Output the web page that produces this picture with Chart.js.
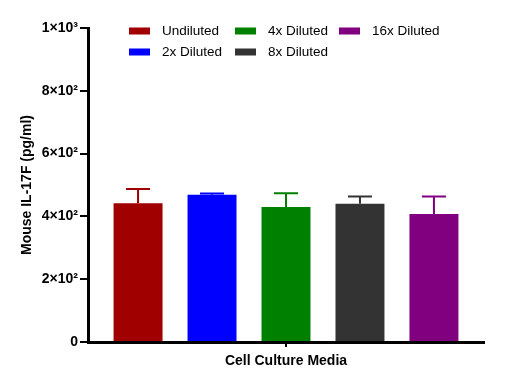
<!DOCTYPE html>
<html>
<head>
<meta charset="utf-8">
<script src="https://cdn.jsdelivr.net/npm/chart.js@4"></script>
<style>
  html, body { margin: 0; padding: 0; background: #fff; }
  #wrap { width: 528px; height: 389px; position: relative; }
</style>
</head>
<body>
<div id="wrap"><canvas id="il17fChart"></canvas></div>
<script>
const categorias = ["Cell Culture Media"];
const grupos = ["Undiluted", "2x Diluted", "4x Diluted", "8x Diluted", "16x Diluted"];
const medias = [442, 469, 430, 440, 408];
const erros = [45, 4, 44, 23, 55];
const cores = ["#A00000", "#0000FF", "#008000", "#333333", "#800080"];
const yTicks = [0, 200, 400, 600, 800, 1000];

const fonte = "Arial, 'Liberation Sans', sans-serif";

function formatSci(v) {
  if (v === 0) return "0";
  const sup = { "0": "⁰", "1": "¹", "2": "²", "3": "³", "4": "⁴", "5": "⁵", "6": "⁶", "7": "⁷", "8": "⁸", "9": "⁹" };
  const exp = Math.floor(Math.log10(v));
  const mant = Math.round(v / Math.pow(10, exp));
  return mant + "×10" + String(exp).split("").map((c) => sup[c]).join("");
}

// barras de erro (só a parte de cima)
const errorBarsPlugin = {
  id: "errorBars",
  afterDatasetsDraw(chart) {
    const ctx = chart.ctx;
    const y = chart.scales.y;
    chart.data.datasets.forEach((ds, i) => {
      const meta = chart.getDatasetMeta(i);
      meta.data.forEach((bar, j) => {
        const topo = y.getPixelForValue(ds.data[j] + ds.erro[j]);
        ctx.save();
        ctx.strokeStyle = ds.backgroundColor;
        ctx.lineWidth = 2;
        ctx.beginPath();
        ctx.moveTo(bar.x, bar.y);
        ctx.lineTo(bar.x, topo);
        ctx.moveTo(bar.x - 12, topo);
        ctx.lineTo(bar.x + 12, topo);
        ctx.stroke();
        ctx.restore();
      });
    });
  },
};

// legenda em 3 colunas, 2 linhas (preenche por coluna)
const legendaPlugin = {
  id: "legenda",
  afterDraw(chart) {
    const ctx = chart.ctx;
    const colX = [129, 235, 339];
    const rowY = [31, 52];
    ctx.save();
    ctx.font = "13.5px " + fonte;
    ctx.textBaseline = "middle";
    chart.data.datasets.forEach((ds, i) => {
      const x = colX[Math.floor(i / 2)];
      const yy = rowY[i % 2];
      ctx.fillStyle = ds.backgroundColor;
      ctx.fillRect(x, yy - 3.5, 21, 7);
      ctx.fillStyle = "#000";
      ctx.fillText(ds.label, x + 33, yy);
    });
    ctx.restore();
  },
};

const ctx = document.getElementById("il17fChart");

new Chart(ctx.getContext("2d"), {
  type: "bar",
  data: {
    labels: categorias,
    datasets: grupos.map((nome, i) => ({
      label: nome,
      data: [medias[i]],
      erro: [erros[i]],
      backgroundColor: cores[i],
      borderWidth: 0,
      categoryPercentage: 0.934,
      barPercentage: 0.662,
    })),
  },
  options: {
    responsive: true,
    maintainAspectRatio: false,
    animation: false,
    layout: {
      padding: { left: 0, top: 28, right: 44, bottom: 0 },
    },
    plugins: {
      legend: { display: false },
      tooltip: { enabled: false },
    },
    scales: {
      x: {
        grid: {
          offset: false,
          drawOnChartArea: false,
          color: "#000",
          lineWidth: 2,
          tickLength: 5,
        },
        border: { color: "#000", width: 3 },
        ticks: {
          color: "#000",
          padding: 6,
          font: { family: fonte, size: 14, weight: "bold" },
        },
        afterFit(scale) {
          scale.height = 47;
        },
      },
      y: {
        min: 0,
        max: 1000,
        afterBuildTicks(scale) {
          scale.ticks = yTicks.map((v) => ({ value: v }));
        },
        grid: {
          drawOnChartArea: false,
          color: "#000",
          lineWidth: 2,
          tickLength: 8,
        },
        border: { color: "#000", width: 3 },
        ticks: {
          color: "#000",
          padding: 2,
          font: { family: fonte, size: 14, weight: "bold" },
          callback: (v) => formatSci(v),
        },
        title: {
          display: true,
          text: "Mouse IL-17F (pg/ml)",
          color: "#000",
          padding: { top: 19, bottom: 0 },
          font: { family: fonte, size: 14, weight: "bold" },
        },
        afterFit(scale) {
          scale.width = 88;
        },
      },
    },
  },
  plugins: [errorBarsPlugin, legendaPlugin],
});
</script>
</body>
</html>
